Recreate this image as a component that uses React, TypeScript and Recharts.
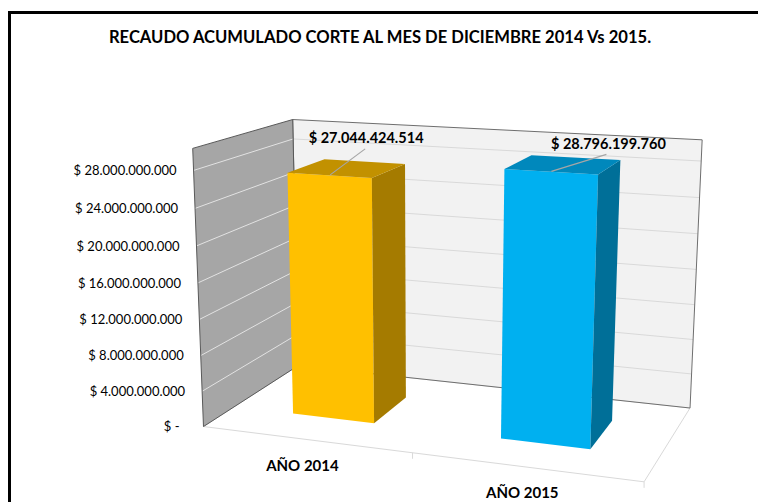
import React from 'react';
import { BarChart, Bar, XAxis, YAxis, ReferenceArea } from 'recharts';

// ---------- data ----------
const CATEGORIES = ['AÑO 2014', 'AÑO 2015'];
const RECAUDO = [27044424514, 28796199760];
const Y_TICKS = [0, 4000000000, 8000000000, 12000000000, 16000000000, 20000000000, 24000000000, 28000000000];
const Y_MAX = 30300000000;
const TITLE = 'RECAUDO ACUMULADO CORTE AL MES DE DICIEMBRE 2014 Vs 2015.';

// ---------- style ----------
const FRONT = ['#FFC000', '#00B0F0'];
const SIDE = ['#A57B00', '#006F98'];
const TOP = ['#C29100', '#0088BC'];
const FONT = 'Lato, "Open Sans", sans-serif';
const W = 758;
const H = 502;
const MARGIN = { top: 20, right: 20, bottom: 20, left: 20 };
const Y_AXIS_W = 60;
const X_AXIS_H = 30;
const PL = MARGIN.left + Y_AXIS_W;
const PW = W - PL - MARGIN.right;
const PT = MARGIN.top;
const PB = H - MARGIN.bottom - X_AXIS_H;
const PH = PB - PT;
const DEPTH = [0.3, 0.7];
const LABEL_OFFSETS = [
  { lx: 35, ly: -26, tx: 36, ty: -37 },
  { lx: 55, ly: -17, tx: 57, ty: -28 },
];

const data = CATEGORIES.map((name, i) => ({ name, value: RECAUDO[i] }));

// ---------- perspective camera (u across, v up, w depth) fitted to the view ----------
type Cal = [number, number, number, number, number];
const vb1 = RECAUDO[0] / Y_MAX;
const vb2 = RECAUDO[1] / Y_MAX;
const vg = 28000000000 / Y_MAX;
const CALIB: Cal[] = [
  [0, 0, 0, 204, 426],
  [1, 0, 0, 643, 483],
  [0, 0, 1, 295, 367],
  [1, 0, 1, 690, 407],
  [0, 1, 0, 192, 151],
  [0, 1, 1, 294, 121],
  [1, 1, 1, 702, 142],
  [0.5, 0, 0, 412, 453],
  [0, vg, 0, 193, 170],
  [0, vg, 1, 294, 138],
  [0.15, vb1, 0.3, 287, 172],
  [0.35, vb1, 0.3, 372, 177],
  [0.15, 0, 0.3, 295, 413],
  [0.35, 0, 0.3, 375, 423],
  [0.35, vb1, 0.7, 405, 163],
  [0.35, 0, 0.7, 407, 396],
  [0.15, vb1, 0.7, 323, 159],
  [0.65, vb2, 0.3, 504, 169],
  [0.85, vb2, 0.3, 598, 173],
  [0.65, vb2, 0.7, 532, 155],
  [0.85, vb2, 0.7, 620, 159],
  [0.65, 0, 0.3, 501, 439],
  [0.85, 0, 0.3, 590, 450],
  [0.85, 0, 0.7, 612, 421],
];
const NX = 400, NY = 300, NS = 300;

function fitCamera(pts: Cal[]): number[] {
  const n = 11;
  const M: number[][] = Array.from({ length: n }, () => new Array(n + 1).fill(0));
  const addRow = (row: number[], rhs: number) => {
    for (let i = 0; i < n; i++) {
      for (let j = 0; j < n; j++) M[i][j] += row[i] * row[j];
      M[i][n] += row[i] * rhs;
    }
  };
  for (const [X, Y, Z, sx, sy] of pts) {
    const x = (sx - NX) / NS;
    const y = (sy - NY) / NS;
    addRow([X, Y, Z, 1, 0, 0, 0, 0, -x * X, -x * Y, -x * Z], x);
    addRow([0, 0, 0, 0, X, Y, Z, 1, -y * X, -y * Y, -y * Z], y);
  }
  for (let c = 0; c < n; c++) {
    let piv = c;
    for (let r = c + 1; r < n; r++) if (Math.abs(M[r][c]) > Math.abs(M[piv][c])) piv = r;
    const tmp = M[c]; M[c] = M[piv]; M[piv] = tmp;
    for (let r = 0; r < n; r++) {
      if (r === c) continue;
      const f = M[r][c] / M[c][c];
      for (let k = c; k <= n; k++) M[r][k] -= f * M[c][k];
    }
  }
  return M.map((row, i) => row[n] / row[i]);
}
const CAM = fitCamera(CALIB);

function project(u: number, v: number, w: number): [number, number] {
  const p = CAM;
  const d = p[8] * u + p[9] * v + p[10] * w + 1;
  const x = (p[0] * u + p[1] * v + p[2] * w + p[3]) / d;
  const y = (p[4] * u + p[5] * v + p[6] * w + p[7]) / d;
  return [x * NS + NX, y * NS + NY];
}
const poly = (pts: [number, number, number][]) =>
  pts.map((q) => project(q[0], q[1], q[2]).map((c) => c.toFixed(2)).join(',')).join(' ');

// ---------- formatting ----------
const thousands = (n: number) => String(Math.round(n)).replace(/\B(?=(\d{3})+(?!\d))/g, '.');
const money = (n: number) => (n === 0 ? '$ -' : `$ ${thousands(n)}`);

// ---------- walls, floor, gridlines ----------
const Walls = () => {
  const lines = Y_TICKS.filter((t) => t > 0).map((t) => t / Y_MAX);
  const tickMarks = [0.5, 1];
  return (
    <g>
      <polygon points={poly([[0, 0, 0], [1, 0, 0], [1, 0, 1], [0, 0, 1]])} fill="#FFFFFF" stroke="#D9D9D9" strokeWidth={1} />
      <polygon points={poly([[0, 0, 1], [1, 0, 1], [1, 1, 1], [0, 1, 1]])} fill="#F2F2F2" stroke="none" />
      {lines.map((v, i) => {
        const a = project(0, v, 1);
        const b = project(1, v, 1);
        return <line key={`b${i}`} x1={a[0]} y1={a[1]} x2={b[0]} y2={b[1]} stroke="#D9D9D9" strokeWidth={1} />;
      })}
      <polygon points={poly([[0, 0, 1], [1, 0, 1], [1, 1, 1], [0, 1, 1]])} fill="none" stroke="#6E6E6E" strokeWidth={1} />
      <polygon points={poly([[0, 0, 0], [0, 0, 1], [0, 1, 1], [0, 1, 0]])} fill="#A6A6A6" stroke="none" />
      {lines.map((v, i) => {
        const a = project(0, v, 0);
        const b = project(0, v, 1);
        return <line key={`l${i}`} x1={a[0]} y1={a[1]} x2={b[0]} y2={b[1]} stroke="#E2E2E2" strokeWidth={1} />;
      })}
      <polygon points={poly([[0, 0, 0], [0, 0, 1], [0, 1, 1], [0, 1, 0]])} fill="none" stroke="#595959" strokeWidth={1} />
      {tickMarks.map((u, i) => {
        const a = project(u, 0, 0);
        return <line key={`t${i}`} x1={a[0]} y1={a[1]} x2={a[0]} y2={a[1] + 6} stroke="#D9D9D9" strokeWidth={1} />;
      })}
    </g>
  );
};

// ---------- 3D bar ----------
const Box3D = (props: any) => {
  const { x, y, width, height, payload } = props;
  if (x == null || width == null) return null;
  const idx = Math.max(0, CATEGORIES.indexOf(payload?.name));
  const u0 = (x - PL) / PW;
  const u1 = (x + width - PL) / PW;
  const v = (PB - y) / PH;
  const [w0, w1] = DEPTH;
  const uc = (u0 + u1) / 2;
  const anchor = project(uc, v, w0 + 0.01);
  const off = LABEL_OFFSETS[idx];
  return (
    <g>
      <polygon points={poly([[u0, 0, w0], [u1, 0, w0], [u1, v, w0], [u0, v, w0]])} fill={FRONT[idx]} />
      <polygon points={poly([[u1, 0, w0], [u1, 0, w1], [u1, v, w1], [u1, v, w0]])} fill={SIDE[idx]} />
      <polygon points={poly([[u0, v, w0], [u1, v, w0], [u1, v, w1], [u0, v, w1]])} fill={TOP[idx]} />
      <line x1={anchor[0]} y1={anchor[1]} x2={anchor[0] + off.lx} y2={anchor[1] + off.ly} stroke="#A6A6A6" strokeWidth={1.2} />
      <text
        x={anchor[0] + off.tx}
        y={anchor[1] + off.ty}
        dy="0.36em"
        textAnchor="middle"
        fontFamily={FONT}
        fontWeight={700}
        fontSize={14.5}
        fill="#000000"
      >
        {money(payload?.value ?? 0)}
      </text>
    </g>
  );
};

const YTick = (props: any) => {
  const { payload } = props;
  const val = payload?.value ?? 0;
  const [px, py] = project(0, val / Y_MAX, 0);
  const gap = val === 0 ? 24 : 17;
  return (
    <text x={px - gap} y={py} dy="0.36em" textAnchor="end" fontFamily={FONT} fontSize={13} fill="#000000">
      {money(val)}
    </text>
  );
};

const XTick = (props: any) => {
  const { x, payload } = props;
  const u = (x - PL) / PW;
  const [px, py] = project(u, 0, 0);
  return (
    <text x={px - 3} y={py + 26} dy="0.36em" textAnchor="middle" fontFamily={FONT} fontWeight={700} fontSize={15} fill="#000000">
      {payload?.value}
    </text>
  );
};

export default function App() {
  return (
    <div style={{ position: 'absolute', left: 0, top: 0, width: W, height: H, overflow: 'hidden', background: '#FFFFFF' }}>
      <div
        style={{
          position: 'absolute',
          left: 8,
          top: 11,
          width: 900,
          height: 700,
          borderLeft: '3px solid #000000',
          borderTop: '3px solid #000000',
          boxSizing: 'border-box',
        }}
      />
      <div
        style={{
          position: 'absolute',
          left: 0,
          top: 27,
          width: 760,
          textAlign: 'center',
          fontFamily: FONT,
          fontWeight: 700,
          fontSize: 16.6,
          lineHeight: '20px',
          color: '#000000',
          whiteSpace: 'nowrap',
        }}
      >
        {TITLE}
      </div>
      <div style={{ position: 'absolute', left: 0, top: 0 }}>
        <BarChart width={W} height={H} data={data} margin={MARGIN} barCategoryGap="30%">
          <ReferenceArea y1={0} y2={Y_MAX} ifOverflow="visible" shape={<Walls />} />
          <XAxis dataKey="name" height={X_AXIS_H} axisLine={false} tickLine={false} tick={<XTick />} interval={0} />
          <YAxis
            type="number"
            domain={[0, Y_MAX]}
            ticks={Y_TICKS}
            width={Y_AXIS_W}
            axisLine={false}
            tickLine={false}
            tick={<YTick />}
            interval={0}
            allowDataOverflow
          />
          <Bar dataKey="value" shape={<Box3D />} isAnimationActive={false} />
        </BarChart>
      </div>
    </div>
  );
}
